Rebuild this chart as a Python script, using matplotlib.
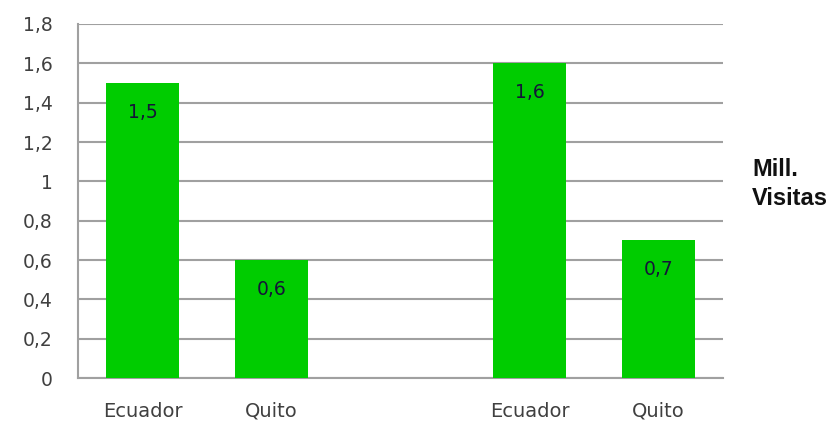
import matplotlib.pyplot as plt

categories = ['Ecuador', 'Quito', 'Ecuador', 'Quito']
positions = [0, 1, 3, 4]
visitas = [1.5, 0.6, 1.6, 0.7]
yticks = [0, 0.2, 0.4, 0.6, 0.8, 1.0, 1.2, 1.4, 1.6, 1.8]
ytick_labels = ['0', '0,2', '0,4', '0,6', '0,8', '1', '1,2', '1,4', '1,6', '1,8']

fig = plt.figure(figsize=(8.31, 4.22), dpi=100)
ax = fig.add_axes([78 / 831, 44 / 422, 645 / 831, 354 / 422])

ax.bar(positions, visitas, width=0.57, color='#00cc00', zorder=3)
for x, v in zip(positions, visitas):
    ax.annotate(f'{v:.1f}'.replace('.', ','), (x, v), xytext=(0, -21),
                textcoords='offset points', ha='center', va='center',
                fontsize=13.5, color='#141438', zorder=4)

ax.set_xlim(-0.5, 4.5)
ax.set_ylim(0, 1.8)
ax.set_yticks(yticks)
ax.set_yticklabels(ytick_labels)
ax.set_xticks(positions)
ax.set_xticklabels(categories)
ax.tick_params(axis='y', length=0, pad=18, labelsize=13.5, labelcolor='#404040')
ax.tick_params(axis='x', length=0, pad=17, labelsize=14, labelcolor='#404040')
ax.yaxis.grid(True, color='#a0a0a0', linewidth=1.5, zorder=0)

for side in ['top', 'right']:
    ax.spines[side].set_visible(False)
ax.spines['left'].set_color('#a0a0a0')
ax.spines['left'].set_linewidth(1.5)
ax.spines['bottom'].set_color('#a0a0a0')
ax.spines['bottom'].set_linewidth(1.5)

fig.text(752 / 831, 1 - 184 / 422, 'Mill.\nVisitas', fontsize=17, fontweight='bold',
         family='Liberation Sans', color='#111111', ha='left', va='center', linespacing=1.35)

fig.savefig('out.png', dpi=100)
